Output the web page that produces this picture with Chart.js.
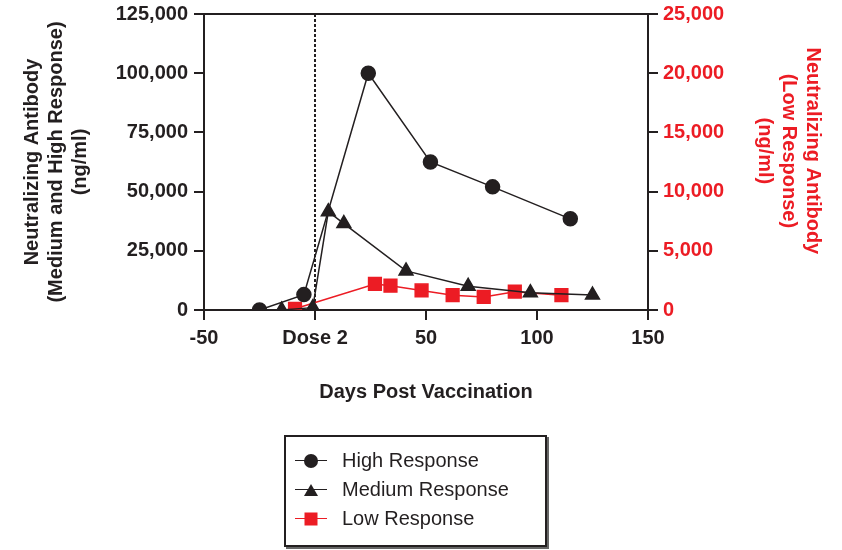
<!DOCTYPE html>
<html>
<head>
<meta charset="utf-8">
<script src="https://cdn.jsdelivr.net/npm/chart.js@4.4.1/dist/chart.umd.min.js"></script>
<style>
  html, body { margin: 0; padding: 0; background: #fff; }
  #contenedor { position: relative; width: 842px; height: 550px; }
  #leyenda {
    position: absolute; left: 284px; top: 435px;
    width: 259px; height: 108px; padding-top: 0;
    border: 2px solid #231f20; box-shadow: 2px 2px 0 #666;
    background: #fff; color: #231f20;
    font: 20px 'Liberation Sans', Arial, sans-serif;
  }
  .fila { display: flex; align-items: center; height: 29px; }
  .fila:first-child { margin-top: 9px; }
  .muestra { position: relative; width: 32px; height: 20px; margin-left: 9px; margin-right: 15px; }
  .muestra .linea { position: absolute; left: 0; right: 0; top: 9px; height: 1.5px; }
  .muestra .marca { position: absolute; left: 50%; top: 50%; transform: translate(-50%, -50%); }
</style>
</head>
<body>
<div id="contenedor">
  <canvas id="graficoAnticuerpos" width="842" height="550"></canvas>
  <div id="leyenda"></div>
</div>
<script>
// Datos
const nombres = ['High Response', 'Medium Response', 'Low Response'];
const diasAlta = [-25, -5, 24, 52, 80, 115];
const valoresAlta = [0, 6500, 100000, 62500, 52000, 38500];
const diasMedia = [-15, -1, 6, 13, 41, 69, 97, 125];
const valoresMedia = [0, 1000, 41500, 36500, 16500, 10000, 7300, 6300];
const diasBaja = [-9, 27, 34, 48, 62, 76, 90, 111];
const valoresBaja = [100, 2200, 2050, 1650, 1250, 1100, 1550, 1250];
const ticksX = [-50, 0, 50, 100, 150];   // el 0 se rotula "Dose 2"

const oscuro = '#231f20';
const rojo = '#ec1c24';
const fuente = "'Liberation Sans', Arial, Helvetica, sans-serif";
const fuenteEje = { family: fuente, size: 20, weight: 'bold', lineHeight: 1.2 };

const puntos = (xs, ys) => xs.map((x, i) => ({ x: x, y: ys[i] }));

// Ancho fijo del eje vertical, sin el margen extra que deja Chart.js arriba
const ajustarEje = (ancho) => (s) => { s.width = ancho; s.paddingTop = 0; s.paddingBottom = 0; };

// Linea punteada de la segunda dosis y borde superior del marco
const lineaDosis = {
    id: 'lineaDosis',
    beforeDatasetsDraw(chart) {
        const { ctx, chartArea, scales } = chart;
        const x = scales.x.getPixelForValue(0);
        ctx.save();
        ctx.strokeStyle = oscuro;
        ctx.lineWidth = 2;
        ctx.beginPath();
        ctx.moveTo(chartArea.left - 1, chartArea.top);
        ctx.lineTo(chartArea.right + 1, chartArea.top);
        ctx.stroke();
        ctx.setLineDash([3, 2]);
        ctx.beginPath();
        ctx.moveTo(x, chartArea.top);
        ctx.lineTo(x, chartArea.bottom);
        ctx.stroke();
        ctx.restore();
    }
};

const ctx = document.getElementById('graficoAnticuerpos').getContext('2d');
const grafico = new Chart(ctx, {
    type: 'line',
    data: {
        datasets: [
            {
                label: nombres[0], data: puntos(diasAlta, valoresAlta), yAxisID: 'y',
                borderColor: oscuro, backgroundColor: oscuro, borderWidth: 1.5,
                pointStyle: 'circle', pointRadius: 7, tension: 0
            },
            {
                label: nombres[1], data: puntos(diasMedia, valoresMedia), yAxisID: 'y',
                borderColor: oscuro, backgroundColor: oscuro, borderWidth: 1.5,
                pointStyle: 'triangle', pointRadius: 8, tension: 0
            },
            {
                label: nombres[2], data: puntos(diasBaja, valoresBaja), yAxisID: 'y2',
                borderColor: rojo, backgroundColor: rojo, borderWidth: 1.5,
                pointStyle: 'rect', pointRadius: 9, tension: 0
            }
        ]
    },
    options: {
        responsive: false,
        animation: false,
        devicePixelRatio: 1,
        layout: { padding: { top: 14, left: 0, right: 0, bottom: 0 } },
        plugins: { legend: { display: false }, tooltip: { enabled: false } },
        scales: {
            x: {
                type: 'linear', min: -50, max: 150,
                afterBuildTicks: (s) => { s.ticks = ticksX.map(v => ({ value: v })); },
                afterFit: (s) => { s.height = 240; },
                ticks: {
                    callback: (v) => v === 0 ? 'Dose 2' : v,
                    color: oscuro, font: fuenteEje, padding: 6, maxRotation: 0
                },
                grid: { drawOnChartArea: false, tickLength: 10, color: oscuro, lineWidth: 2 },
                border: { color: oscuro, width: 2 },
                title: {
                    display: true, text: 'Days Post Vaccination', color: oscuro, font: fuenteEje,
                    padding: { top: 0, bottom: 146 }
                }
            },
            y: {
                position: 'left', min: 0, max: 125000,
                afterFit: ajustarEje(204),
                ticks: {
                    stepSize: 25000, color: oscuro, font: fuenteEje, padding: 6,
                    callback: (v) => v.toLocaleString('en-US')
                },
                grid: { drawOnChartArea: false, tickLength: 10, color: oscuro, lineWidth: 2 },
                border: { color: oscuro, width: 2 },
                title: {
                    display: true, color: oscuro, font: fuenteEje,
                    text: ['Neutralizing Antibody', '(Medium and High Response)', '(ng/ml)'],
                    padding: { top: 20, bottom: 0 }
                }
            },
            y2: {
                position: 'right', min: 0, max: 25000,
                afterFit: ajustarEje(194),
                ticks: {
                    stepSize: 5000, color: rojo, font: fuenteEje, padding: 5,
                    callback: (v) => v.toLocaleString('en-US')
                },
                grid: { drawOnChartArea: false, tickLength: 10, color: oscuro, lineWidth: 2 },
                border: { color: oscuro, width: 2 },
                title: {
                    display: true, color: rojo, font: fuenteEje,
                    // espacios al final para subir un poco el titulo, como en el original
                    text: ['Neutralizing Antibody    ', '(Low Response)    ', '(ng/ml)    '],
                    padding: { top: 17, bottom: 0 }
                }
            }
        }
    },
    plugins: [lineaDosis]
});

// Leyenda en HTML a partir de los datasets
const leyenda = document.getElementById('leyenda');
grafico.data.datasets.forEach(function(ds) {
    const fila = document.createElement('div');
    fila.className = 'fila';
    const muestra = document.createElement('span');
    muestra.className = 'muestra';
    const linea = document.createElement('span');
    linea.className = 'linea';
    linea.style.background = ds.borderColor;
    const marca = document.createElement('span');
    marca.className = 'marca';
    if (ds.pointStyle === 'circle') {
        marca.style.cssText += 'width:14px;height:14px;border-radius:50%;background:' + ds.backgroundColor;
    } else if (ds.pointStyle === 'triangle') {
        marca.style.cssText += 'width:0;height:0;border-left:7px solid transparent;border-right:7px solid transparent;border-bottom:12px solid ' + ds.backgroundColor;
    } else {
        marca.style.cssText += 'width:13px;height:13px;background:' + ds.backgroundColor;
    }
    muestra.appendChild(linea);
    muestra.appendChild(marca);
    const texto = document.createElement('span');
    texto.textContent = ds.label;
    fila.appendChild(muestra);
    fila.appendChild(texto);
    leyenda.appendChild(fila);
});
</script>
</body>
</html>
